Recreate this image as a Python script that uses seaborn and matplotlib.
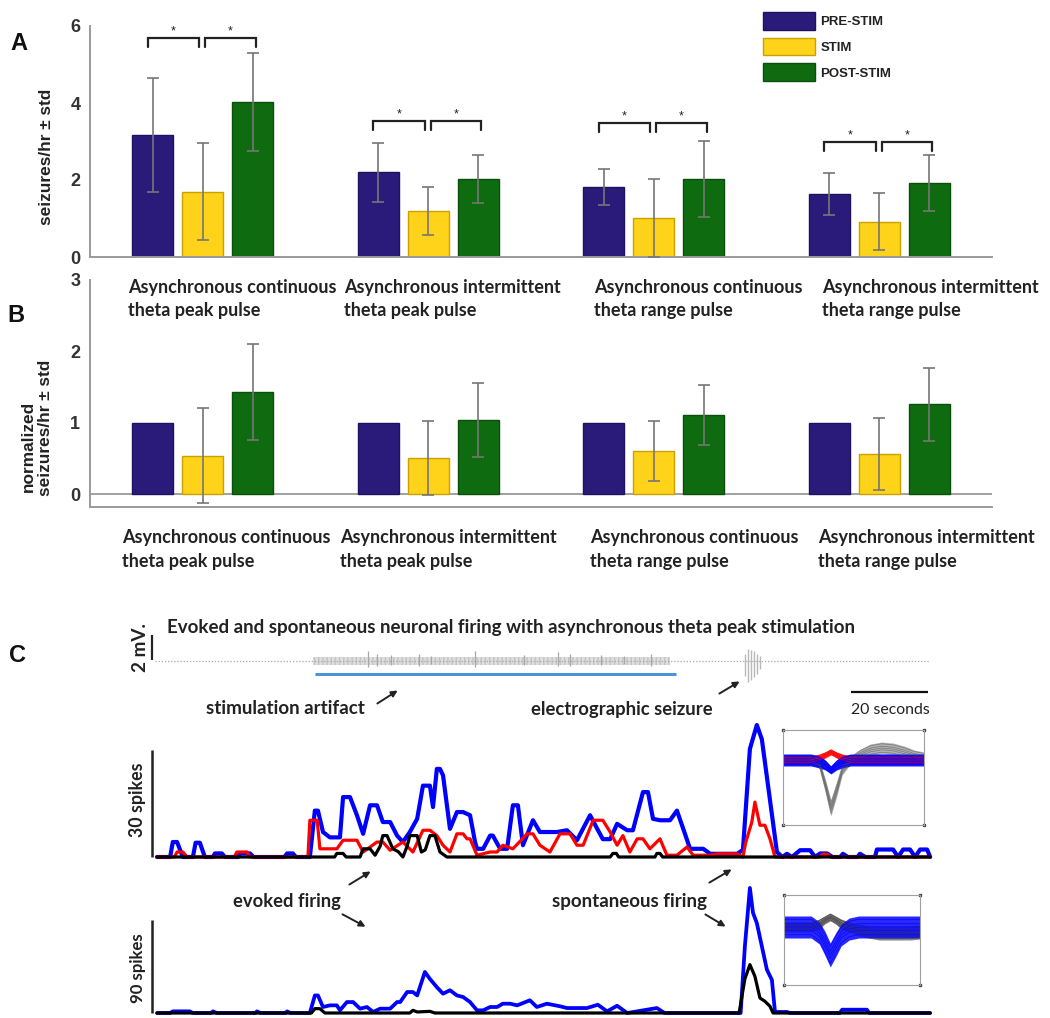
import numpy as np
import pandas as pd
import matplotlib
matplotlib.use("Agg")
import matplotlib.pyplot as plt
from matplotlib.patches import Patch
import seaborn as sns

# ------------------------------------------------------------------ data
group_keys = ["g1", "g2", "g3", "g4"]
group_line1 = ["Asynchronous continuous", "Asynchronous intermittent",
               "Asynchronous continuous", "Asynchronous intermittent"]
group_line2 = ["theta peak pulse", "theta peak pulse",
               "theta range pulse", "theta range pulse"]
phases = ["PRE-STIM", "STIM", "POST-STIM"]

# Panel A: seizures/hr
rate_pre = [3.17, 2.20, 1.82, 1.64]
rate_stim = [1.69, 1.20, 1.01, 0.91]
rate_post = [4.02, 2.03, 2.03, 1.92]
rate_std_pre = [1.47, 0.76, 0.46, 0.55]
rate_std_stim = [1.26, 0.63, 1.01, 0.74]
rate_std_post = [1.27, 0.63, 0.99, 0.73]
sig_level_A = [5.69, 3.53, 3.48, 2.99]
yticks_A = [0, 2, 4, 6]

# Panel B: normalized seizures/hr
norm_pre = [1.0, 1.0, 1.0, 1.0]
norm_stim = [0.54, 0.51, 0.61, 0.56]
norm_post = [1.43, 1.04, 1.11, 1.26]
norm_std_pre = [0, 0, 0, 0]
norm_std_stim = [0.67, 0.52, 0.42, 0.50]
norm_std_post = [0.67, 0.52, 0.42, 0.51]
yticks_B = [0, 1, 2, 3]

# Panel C: EEG (mV) vs time (s)
stim_span = [40.9, 134.5]
artifact_span = [40.4, 133.0]
artifact_level = [-0.28, 0.32]
artifact_big_t = [54.7, 57.0, 60.5, 68.0, 71.0, 82.4, 95.0, 104.0, 107.0, 115.0, 121.0, 128.0]
artifact_big_a = [0.8, 0.6, 0.5, 0.6, 0.4, 0.8, 0.5, 0.7, 0.6, 0.5, 0.4, 0.6]
seizure_t = [152.3, 153.0, 153.8, 154.6, 155.4, 156.3]
seizure_up = [0.6, 1.0, 0.9, 0.8, 0.6, 0.4]
seizure_dn = [-1.2, -1.7, -1.5, -1.3, -1.0, -0.6]
eeg_span = [-0.5, 200.0]

# Panel C: spike counts (time s, spikes)
blue1 = [(0, 0), (3.4, 0), (4.1, 4.2), (5.2, 4.2), (6.7, 0), (9.3, 0), (10.0, 4.0), (11.1, 4.0), (12.4, 0),
         (14.5, 0), (15.0, 1.0), (16.8, 1.0), (17.6, 0), (21.0, 0), (21.5, 1.0), (24.1, 1.0), (25.0, 0),
         (33.0, 0), (33.7, 1.0), (35.2, 1.0), (36.0, 0), (39.6, 0), (40.9, 13.0), (41.7, 13.0), (43.0, 7.0),
         (44.8, 5.5), (47.4, 5.5), (48.2, 16.8), (50.0, 16.8), (51.8, 11.7), (53.4, 6.5), (55.2, 14.5),
         (57.0, 14.5), (58.5, 9.8), (60.4, 9.8), (62.2, 6.0), (63.7, 4.2), (65.5, 7.0), (67.4, 10.7),
         (68.9, 20.0), (70.7, 20.0), (71.5, 14.0), (72.5, 24.7), (73.3, 24.7), (74.1, 22.9), (75.9, 7.9),
         (77.7, 12.6), (79.3, 12.6), (81.1, 11.7), (82.4, 4.2), (82.9, 2.3), (84.5, 2.3), (86.3, 6.0),
         (87.0, 6.0), (88.9, 2.3), (90.7, 2.3), (92.2, 14.5), (93.5, 14.5), (94.8, 3.3), (97.4, 10.3),
         (99.2, 7.0), (103.6, 7.0), (106.2, 7.5), (108.8, 4.7), (112.2, 11.7), (114.0, 8.0), (115.5, 5.0),
         (117.4, 5.0), (119.2, 9.3), (121.8, 7.5), (123.3, 7.5), (125.9, 18.2), (127.2, 18.2), (128.5, 10.7),
         (130.3, 10.3), (132.9, 10.3), (134.7, 13.0), (136.3, 8.0), (138.1, 2.3), (141.5, 2.3), (143.3, 0.9),
         (150.3, 0.9), (151.8, 2.0), (153.6, 30.3), (155.4, 37.0), (156.7, 33.0), (158.8, 16.0), (160.6, 1.4),
         (162.0, 0), (163.2, 0.9), (164.5, 0), (166.6, 1.9), (169.2, 1.9), (170.5, 0), (171.8, 1.0),
         (173.6, 1.0), (175.0, 0), (177.0, 0), (177.7, 0.9), (179.0, 0), (181.5, 0), (182.1, 0.9), (183.5, 0),
         (186.0, 0), (186.5, 2.1), (190.7, 2.1), (192.0, 0), (193.3, 2.1), (195.1, 2.1), (196.4, 0),
         (197.7, 2.1), (199.5, 2.1), (200.3, 0)]
red1 = [(0, 0), (4.5, 0), (5.2, 1.4), (6.7, 1.4), (7.8, 0), (20.0, 0), (20.7, 1.4), (23.3, 1.4), (24.1, 0),
        (39.1, 0), (39.6, 10.3), (41.5, 10.3), (42.2, 2.3), (46.6, 2.3), (48.2, 4.7), (51.8, 4.7), (53.4, 1.4),
        (57.0, 4.2), (58.5, 4.2), (60.4, 1.9), (63.7, 4.2), (66.3, 1.4), (68.9, 7.5), (70.7, 7.5), (72.5, 6.0),
        (74.1, 3.3), (75.9, 1.4), (77.7, 6.5), (79.3, 6.5), (80.3, 5.1), (81.1, 5.1), (82.9, 0.5), (86.3, 1.4),
        (88.1, 1.4), (89.6, 3.3), (92.2, 2.3), (95.9, 6.5), (97.4, 6.5), (99.2, 3.3), (101.8, 1.4), (104.4, 6.5),
        (107.0, 6.5), (108.8, 3.3), (110.4, 3.3), (113.0, 10.3), (115.5, 10.3), (117.4, 7.0), (119.2, 3.3),
        (120.7, 6.0), (122.5, 1.4), (124.4, 5.1), (125.9, 5.1), (127.7, 2.3), (130.3, 5.1), (132.1, 0.5),
        (134.7, 0.5), (137.3, 2.8), (138.9, 0.5), (143.3, 0.5), (145.1, 0.9), (150.3, 0.9), (151.8, 0),
        (152.5, 4.0), (154.1, 9.8), (154.9, 15.4), (156.2, 8.9), (157.5, 8.9), (158.8, 5.1), (160.1, 0),
        (171.8, 0), (172.5, 0.8), (173.6, 0.8), (174.5, 0), (200.3, 0)]
black1 = [(0, 0), (46.0, 0), (46.6, 1.0), (48.2, 1.0), (49.0, 0), (52.6, 0), (53.4, 2.3), (55.2, 2.3),
          (56.5, 0.5), (57.8, 3.0), (58.5, 6.0), (59.6, 6.0), (61.1, 2.3), (62.5, 1.5), (63.7, 0), (64.8, 3.0),
          (65.5, 6.0), (67.4, 6.0), (68.5, 1.4), (69.5, 2.0), (70.7, 6.0), (72.0, 6.0), (73.3, 1.4), (75.1, 0),
          (117.4, 0), (118.1, 1.0), (119.0, 1.0), (119.6, 0), (129.0, 0), (129.5, 1.0), (130.3, 1.0), (131.0, 0),
          (200.3, 0)]
blue2 = [(0, 0), (3.4, 0), (4.1, 1.6), (8.5, 1.6), (9.3, 0), (14.0, 0), (14.5, 1.6), (15.5, 0), (25.5, 0),
         (25.9, 1.6), (26.8, 0), (33.3, 0), (33.7, 1.6), (34.6, 0), (39.6, 0), (40.9, 17.0), (41.7, 17.0),
         (43.0, 5.8), (44.8, 7.4), (46.6, 7.4), (47.4, 2.6), (49.2, 10.6), (50.8, 10.6), (52.6, 4.2),
         (54.4, 5.8), (56.0, 1.0), (57.8, 4.2), (60.4, 4.2), (62.2, 10.6), (63.0, 10.6), (64.8, 20.3),
         (66.3, 20.3), (67.4, 17.0), (69.4, 39.7), (70.7, 33.0), (72.5, 25.0), (74.1, 18.7), (75.9, 22.0),
         (77.7, 17.0), (79.3, 15.5), (81.1, 10.6), (82.9, 2.6), (84.5, 2.6), (86.3, 5.8), (88.1, 5.8),
         (89.6, 9.0), (91.5, 9.0), (93.3, 7.4), (96.6, 12.3), (98.4, 5.8), (101.0, 9.0), (104.4, 6.5),
         (106.2, 4.8), (111.4, 4.8), (114.2, 8.0), (116.6, 1.6), (119.2, 7.0), (121.8, 0), (129.5, 4.8),
         (131.5, 0), (151.2, 0), (152.3, 64.5), (153.6, 121.0), (154.4, 97.0), (155.4, 87.0), (156.7, 64.5),
         (158.0, 42.0), (159.3, 32.0), (160.1, 1.0), (163.2, 1.0), (164.0, 0), (176.9, 0), (177.5, 3.2),
         (183.9, 3.2), (184.5, 0), (200.3, 0)]
black2 = [(0, 0), (40.0, 0), (40.9, 4.2), (42.2, 4.2), (43.5, 0), (65.5, 0), (66.3, 2.6), (67.4, 1.0),
          (70.7, 1.6), (72.0, 0), (150.8, 0), (152.3, 33.0), (153.6, 46.8), (154.9, 35.5), (156.2, 14.5),
          (157.5, 11.3), (158.8, 6.5), (159.6, 0), (200.3, 0)]

# Spike waveform insets: normalized sample position, mean and spread (a.u.)
wave_x = [0, 0.1, 0.2, 0.26, 0.3, 0.34, 0.38, 0.42, 0.48, 0.55, 0.62, 0.7, 0.78, 0.86, 0.93, 1.0]
w1_gray_mean = [0, 0, 0, -5, -25, -48, -30, -10, 0, 6, 10, 12, 11, 8, 5, 3]
w1_gray_sd = [3, 3, 3, 4, 6, 8, 7, 5, 4, 5, 6, 6, 6, 6, 5, 5]
w1_red_mean = [0, 0, 0, 2, 5, 8, 5, 2, 0, 0, 0, 0, 0, 0, 0, 0]
w1_red_sd = [4, 4, 4, 4, 3, 3, 3, 4, 4, 4, 4, 4, 4, 4, 4, 4]
w1_blue_mean = [0, 0, 0, -2, -5, -10, -5, -2, 0, 0, 0, 0, 0, 0, 0, 0]
w1_blue_sd = [6, 6, 6, 6, 5, 4, 5, 6, 6, 6, 6, 6, 6, 6, 6, 6]
w2_black_mean = [0, 0, 0, 3, 7, 10, 7, 3, 0, -3, -5, -6, -6, -6, -6, -5]
w2_black_sd = [5, 5, 5, 5, 4, 4, 4, 5, 5, 6, 6, 7, 7, 7, 7, 7]
w2_blue_mean = [0, 0, 0, -6, -16, -28, -18, -8, -2, 0, 0, 0, 0, 0, 0, 0]
w2_blue_sd = [11, 11, 11, 11, 12, 12, 12, 11, 11, 11, 11, 11, 11, 11, 11, 11]

# ------------------------------------------------------------------ style
W, H = 1050, 1018
sns.set_theme(style="white")
plt.rcParams["font.family"] = ["Liberation Sans", "DejaVu Sans"]
C_FONT = ["Lato", "DejaVu Sans"]
pal = {"PRE-STIM": "#2a1b7a", "STIM": "#ffd31a", "POST-STIM": "#0e6b10"}
edge = {"PRE-STIM": "#1c1260", "STIM": "#c9a200", "POST-STIM": "#0a500c"}
SPINE = "#9a9a9a"
ERR = "#767676"

fig = plt.figure(figsize=(W / 100, H / 100), dpi=100)
renderer = fig.canvas.get_renderer()


def add_ax(x0, y0, x1, y1):
    return fig.add_axes([x0 / W, 1 - y1 / H, (x1 - x0) / W, (y1 - y0) / H])


def put(x, y, s, width=None, size=12, rot=0, ha="left", va="center", **kw):
    t = fig.text(x / W, 1 - y / H, s, fontsize=size, rotation=rot, ha=ha, va=va, **kw)
    if width:
        bb = t.get_window_extent(renderer)
        cur = bb.height if rot else bb.width
        t.set_fontsize(size * width / cur)
    return t


def arrow(x0, y0, x1, y1):
    fig.add_artist(matplotlib.patches.FancyArrowPatch(
        (x0 / W, 1 - y0 / H), (x1 / W, 1 - y1 / H), transform=fig.transFigure,
        arrowstyle="-|>", mutation_scale=9, lw=1.4, color="#222222"))


def long_df(vals):
    rows = []
    for v, ph in zip(vals, phases):
        for g, x in zip(group_keys, v):
            rows.append(dict(group=g, phase=ph, value=x))
    return pd.DataFrame(rows)


def bar_panel(ax, vals, errs, ylim, yticks):
    sns.barplot(data=long_df(vals), x="group", y="value", hue="phase", order=group_keys,
                hue_order=phases, palette=pal, width=0.666, gap=0.18, errorbar=None,
                ax=ax, legend=False, linewidth=1.0, saturation=1)
    for cont, ph, er in zip(ax.containers, phases, errs):
        for p, e in zip(cont.patches, er):
            p.set_edgecolor(edge[ph])
            if e:
                xc = p.get_x() + p.get_width() / 2
                ax.errorbar(xc, p.get_height(), yerr=e, color=ERR, lw=1.2, capsize=4.0,
                            capthick=1.2, zorder=5)
    ax.set_xlim(-0.5, 3.5)
    ax.set_ylim(*ylim)
    ax.set_yticks(yticks)
    ax.set_xticks([])
    ax.set_xlabel("")
    ax.set_ylabel("")
    for s in ["top", "right"]:
        ax.spines[s].set_visible(False)
    for s in ["left", "bottom"]:
        ax.spines[s].set_color(SPINE)
        ax.spines[s].set_linewidth(1.4)
    ax.tick_params(axis="y", direction="in", length=6, width=1.2, color=SPINE, pad=7,
                   labelsize=13, labelcolor="#333333")
    for lab in ax.get_yticklabels():
        lab.set_fontweight("bold")
    ax.patch.set_alpha(0)


# ------------------------------------------------------------------ panel A
axA = add_ax(90, 26, 992, 257)
bar_panel(axA, [rate_pre, rate_stim, rate_post],
          [rate_std_pre, rate_std_stim, rate_std_post], (0, 6), yticks_A)
for gi, h in enumerate(sig_level_A):
    for b0, b1 in [(-0.245, -0.015), (0.01, 0.235)]:
        axA.plot([gi + b0, gi + b0, gi + b1, gi + b1], [h - 0.24, h, h, h - 0.24],
                 color="#222222", lw=1.6, solid_joinstyle="miter")
        axA.text(gi + (b0 + b1) / 2, h + 0.02, "*", ha="center", va="bottom",
                 fontsize=9, color="#222222")

axA.legend(handles=[Patch(facecolor=pal[p], edgecolor=edge[p], lw=1) for p in phases],
           labels=phases, loc="upper left", bbox_to_anchor=(763 / W, 1 - 12 / H),
           bbox_transform=fig.transFigure, frameon=False, borderpad=0, borderaxespad=0,
           handlelength=3.94, handleheight=1.67, labelspacing=0.62, handletextpad=0.4,
           prop=dict(family="Liberation Sans", weight="bold", size=9.5), labelcolor="#222222")

# ------------------------------------------------------------------ panel B
axB = add_ax(90, 280, 992, 507)
bar_panel(axB, [norm_pre, norm_stim, norm_post],
          [norm_std_pre, norm_std_stim, norm_std_post], (-0.18, 3), yticks_B)
axB.axhline(0, color=SPINE, lw=1.3, zorder=0.5)
axB.spines["left"].set_bounds(-0.18, 3)

# group labels
A_left = [128, 344, 594, 822]
B_left = [122, 340, 590, 818]
t0 = put(A_left[0], 287, group_line1[0], width=207, size=12, family=C_FONT, weight="bold",
         color="#222222")
gsize = t0.get_fontsize()
for i in range(4):
    if i:
        put(A_left[i], 287, group_line1[i], size=gsize, family=C_FONT, weight="bold", color="#222222")
    put(A_left[i], 311, group_line2[i], size=gsize, family=C_FONT, weight="bold", color="#222222")
    put(B_left[i], 537, group_line1[i], size=gsize, family=C_FONT, weight="bold", color="#222222")
    put(B_left[i], 562, group_line2[i], size=gsize, family=C_FONT, weight="bold", color="#222222")

# axis labels and panel letters
ylab_size = put(47, 157, "seizures/hr \u00b1 std", width=137, size=10, rot=90, ha="center",
                weight="bold", color="#222222").get_fontsize()
put(28, 446, "normalized", size=ylab_size, rot=90, ha="center", weight="bold", color="#222222")
put(46, 428, "seizures/hr \u00b1 std", size=ylab_size, rot=90, ha="center", weight="bold",
    color="#222222")
put(19, 43, "A", size=17, ha="center", weight="bold", color="#111111")
put(16, 316, "B", size=17, ha="center", weight="bold", color="#111111")
put(18, 655, "C", size=17, ha="center", weight="bold", color="#111111")

# ------------------------------------------------------------------ panel C
T0_PX, PX_PER_S = 157, 3.86
CX0, CX1 = 140, 940
tlim = ((CX0 - T0_PX) / PX_PER_S, (CX1 - T0_PX) / PX_PER_S)

axE = add_ax(CX0, 600, CX1, 700)
axE.set_xlim(*tlim)
axE.set_ylim(-3.12, 4.88)
axE.axis("off")
axE.hlines(0, *eeg_span, color="#a8a8a8", lw=0.9, linestyles=(0, (1, 1.5)))
axE.fill_between(artifact_span, [artifact_level[0]] * 2, [artifact_level[1]] * 2,
                 color="#dedede", lw=0, hatch="||||", edgecolor="#c4c4c4")
axE.vlines(artifact_big_t, [-0.6 * a for a in artifact_big_a], artifact_big_a,
           color="#a8a8a8", lw=0.9)
axE.vlines(seizure_t, seizure_dn, seizure_up, color="#b8b8b8", lw=1.0)
axE.hlines(-1.04, *stim_span, color="#4a93db", lw=2.2)
axE.vlines(-1.3, 0.08, 2.08, color="#222222", lw=1.6)
axE.hlines(-2.48, 179.8, 199.7, color="#111111", lw=1.6)


def trace_ax(y0, y1, px_per_unit, base_px, scale):
    ax = add_ax(CX0, y0, CX1, y1)
    ax.set_xlim(*tlim)
    ax.set_ylim(-(y1 - base_px) / px_per_unit, (base_px - y0) / px_per_unit)
    ax.axis("off")
    ax.vlines(-1.3, 0, scale, color="#222222", lw=1.8)
    return ax


def draw_trace(ax, pts, color, lw):
    t, v = zip(*pts)
    sns.lineplot(x=list(t), y=list(v), ax=ax, color=color, lw=lw, estimator=None, sort=False,
                 solid_joinstyle="round")


axS1 = trace_ax(712, 862, 107 / 30, 857, 30)
draw_trace(axS1, blue1, "#0000ff", 3.0)
draw_trace(axS1, red1, "#ff0000", 2.3)
draw_trace(axS1, black1, "#000000", 2.3)

axS2 = trace_ax(880, 1016, 93 / 90, 1013, 90)
draw_trace(axS2, blue2, "#0000ff", 2.7)
draw_trace(axS2, black2, "#000000", 2.3)


def inset(x0, y0, x1, y1, ylim, layers):
    ax = add_ax(x0, y0, x1, y1)
    ax.set_xlim(0, 1)
    ax.set_ylim(*ylim)
    ax.set_xticks([])
    ax.set_yticks([])
    for s in ax.spines.values():
        s.set_color("#a0a0a0")
        s.set_linewidth(0.8)
    ax.plot([0, 1, 0, 1], [0, 0, 1, 1], "s", ms=1.6, color="#444444", transform=ax.transAxes,
            clip_on=False)
    for mean, sd, col, a in layers:
        lo = [m - s for m, s in zip(mean, sd)]
        hi = [m + s for m, s in zip(mean, sd)]
        ax.fill_between(wave_x, lo, hi, color=col, alpha=a, lw=0)
        for frac in (-0.7, -0.3, 0.0, 0.3, 0.7):
            ax.plot(wave_x, [m + frac * s for m, s in zip(mean, sd)], color=col, lw=0.6,
                    alpha=min(1, a + 0.1))
    return ax


inset(783, 730, 924, 825, (-65, 30),
      [(w1_gray_mean, w1_gray_sd, "#555555", 0.45),
       (w1_red_mean, w1_red_sd, "#ff0000", 0.8),
       (w1_blue_mean, w1_blue_sd, "#0000ff", 0.9)])
inset(784, 895, 920, 985, (-58, 32),
      [(w2_black_mean, w2_black_sd, "#333333", 0.6),
       (w2_blue_mean, w2_blue_sd, "#0a0aff", 0.88)])

# panel C texts
ck = dict(family=C_FONT, weight="bold", color="#222222")
put(167, 627, "Evoked and spontaneous neuronal firing with asynchronous theta peak stimulation",
    width=686, size=12, **ck)
put(206, 709, "stimulation artifact", width=157, size=12, **ck)
put(713, 710, "electrographic seizure", width=180, size=12, ha="right", **ck)
put(851, 710, "20 seconds", width=79, size=11, family=C_FONT, color="#222222")
put(233, 901, "evoked firing", width=107, size=12, **ck)
put(707, 901, "spontaneous firing", width=154, size=12, ha="right", **ck)
put(141, 648, "2 mV.", width=49, size=11, rot=90, ha="center", **ck)
put(137, 800, "30 spikes", width=74, size=11, rot=90, ha="center", **ck)
put(138, 968, "90 spikes", width=70, size=11, rot=90, ha="center", **ck)

arrow(375, 705, 400, 689)
arrow(717, 695, 742, 680)
arrow(347, 886, 373, 870)
arrow(340, 913, 368, 928)
arrow(707, 884, 734, 868)
arrow(703, 913, 728, 928)

fig.savefig("out.png", dpi=100)
